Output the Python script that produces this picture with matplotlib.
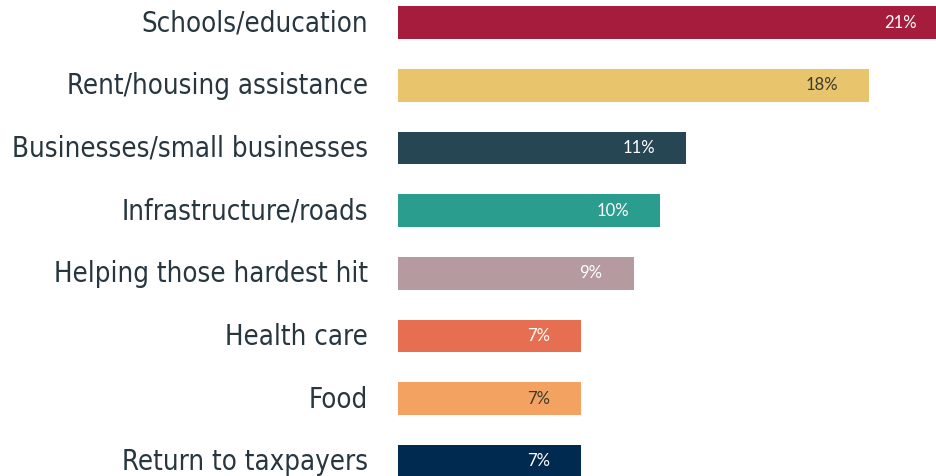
# Horizontal bar chart: where should the money go
import numpy as np
import matplotlib.pyplot as plt

categories = ['Schools/education', 'Rent/housing assistance', 'Businesses/small businesses',
              'Infrastructure/roads', 'Helping those hardest hit', 'Health care', 'Food',
              'Return to taxpayers']
values = [21, 18, 11, 10, 9, 7, 7, 7]
value_labels = ['21%', '18%', '11%', '10%', '9%', '7%', '7%', '7%']
colors = ['#a51c3c', '#e8c46c', '#264653', '#2a9d8f', '#b59aa0', '#e76f51', '#f4a261', '#012a50']
text_colors = ['white', '#3b3a2c', 'white', 'white', 'white', 'white', '#3b3a2c', 'white']

fig = plt.figure(figsize=(9.36, 4.76), dpi=100)
ax = fig.add_axes([398 / 936, 0, 1 - 398 / 936, 1])

y = np.arange(len(categories))
ax.barh(y, values, height=0.52, color=colors)

# value labels inside the bar end
for yi, v, lab, tc in zip(y, values, value_labels, text_colors):
    ax.annotate(lab, (v, yi), xytext=(-31, 0), textcoords='offset pixels',
                ha='right', va='center', color=tc, fontsize=12, family='Lato',
                annotation_clip=False)

# category labels on the left
for yi, cat in zip(y, categories):
    ax.annotate(cat, (0, yi), xytext=(-30, -1), textcoords='offset pixels',
                ha='right', va='center', color='#27363f', fontsize=19.8,
                family='DejaVu Sans', fontstretch='condensed', annotation_clip=False)

ax.set_xlim(0, 20.55)
ax.set_ylim(7.233, -0.359)
ax.axis('off')

fig.savefig('out.png', dpi=100)
